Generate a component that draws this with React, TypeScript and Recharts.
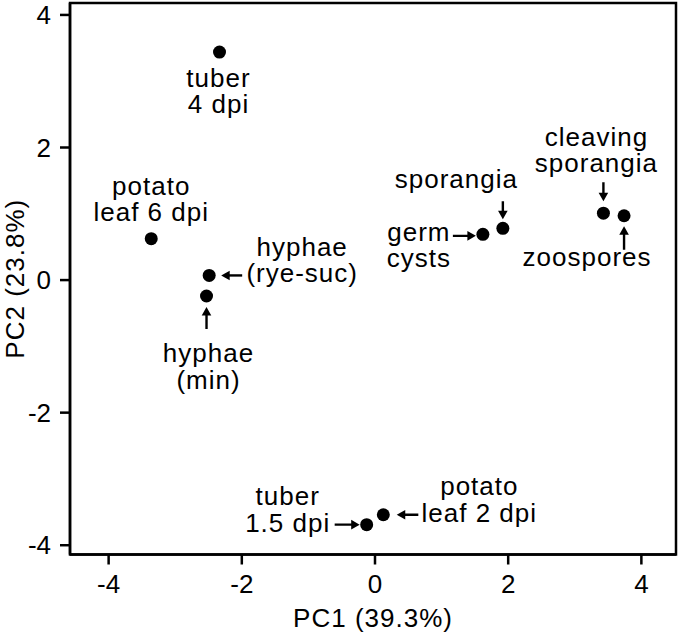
import React from 'react';
import { ScatterChart, Scatter, XAxis, YAxis, ReferenceArea, Label } from 'recharts';

// ---- data ----
const sampleNames = [
  'tuber 4 dpi',
  'potato leaf 6 dpi',
  'hyphae (rye-suc)',
  'hyphae (min)',
  'germ cysts',
  'sporangia',
  'cleaving sporangia',
  'zoospores',
  'tuber 1.5 dpi',
  'potato leaf 2 dpi',
];
const pc1Values = [-2.335, -3.36, -2.49, -2.53, 1.62, 1.92, 3.43, 3.74, -0.125, 0.125];
const pc2Values = [3.44, 0.625, 0.07, -0.24, 0.69, 0.78, 1.01, 0.97, -3.69, -3.54];
const labelLines: string[][] = [
  ['tuber', '4 dpi'],
  ['potato', 'leaf 6 dpi'],
  ['hyphae', '(rye-suc)'],
  ['hyphae', '(min)'],
  ['germ', 'cysts'],
  ['sporangia'],
  ['cleaving', 'sporangia'],
  ['zoospores'],
  ['tuber', '1.5 dpi'],
  ['potato', 'leaf 2 dpi'],
];
const xTicks = [-4, -2, 0, 2, 4];
const yTicks = [-4, -2, 0, 2, 4];
const xDomain: [number, number] = [-4.58, 4.52];
const yDomain: [number, number] = [-4.14, 4.18];
const xTitle = 'PC1 (39.3%)';
const yTitle = 'PC2 (23.8%)';

const data = sampleNames.map((name, i) => ({
  name,
  x: pc1Values[i],
  y: pc2Values[i],
  lines: labelLines[i],
}));

// ---- annotation layout (pixel offsets relative to the dot) ----
type Layout = { tx: number; ty: number[]; arrow?: [number, number, number, number] };
const LAYOUT: Record<string, Layout> = {
  'tuber 4 dpi': { tx: -1, ty: [34.5, 61] },
  'potato leaf 6 dpi': { tx: 0, ty: [-44, -17.5] },
  'hyphae (rye-suc)': { tx: 93, ty: [-19.3, 7], arrow: [33, 0, 12, 0] },
  'hyphae (min)': { tx: 2, ty: [66, 93], arrow: [0, 33, 0, 11] },
  'germ cysts': { tx: -64, ty: [6.5, 33], arrow: [-30, 1.5, -7, 1.5] },
  sporangia: { tx: -46.5, ty: [-40.7], arrow: [0, -27, 0, -9] },
  'cleaving sporangia': { tx: -7, ty: [-67, -41], arrow: [0, -31, 0, -12] },
  zoospores: { tx: -37, ty: [50], arrow: [0, 34, 0, 10.5] },
  'tuber 1.5 dpi': { tx: -79, ty: [-20, 7.7], arrow: [-32, 0, -7, 0] },
  'potato leaf 2 dpi': { tx: 96, ty: [-20, 7.7], arrow: [35, 0, 13.4, 0] },
};

const FONT = '"Liberation Sans", Arial, Helvetica, sans-serif';
const FONT_SIZE = 26;
const LETTER_SPACING = 1;

const Arrow = ({ x1, y1, x2, y2 }: { x1: number; y1: number; x2: number; y2: number }) => {
  const dx = x2 - x1;
  const dy = y2 - y1;
  const len = Math.sqrt(dx * dx + dy * dy) || 1;
  const ux = dx / len;
  const uy = dy / len;
  const headLen = 8.5;
  const headHalf = 4.8;
  const bx = x2 - ux * headLen;
  const by = y2 - uy * headLen;
  const px = -uy;
  const py = ux;
  return (
    <g>
      <line x1={x1} y1={y1} x2={bx + ux} y2={by + uy} stroke="#000" strokeWidth={2.4} />
      <polygon
        points={`${x2},${y2} ${bx + px * headHalf},${by + py * headHalf} ${bx - px * headHalf},${by - py * headHalf}`}
        fill="#000"
      />
    </g>
  );
};

const renderPoint = (props: any) => {
  const { cx, cy, payload } = props;
  if (cx == null || cy == null) return <g />;
  const layout = LAYOUT[payload.name];
  return (
    <g>
      <circle cx={cx} cy={cy} r={6.5} fill="#000" />
      {layout && layout.arrow && (
        <Arrow
          x1={cx + layout.arrow[0]}
          y1={cy + layout.arrow[1]}
          x2={cx + layout.arrow[2]}
          y2={cy + layout.arrow[3]}
        />
      )}
      {layout &&
        payload.lines.map((line: string, i: number) => (
          <text
            key={i}
            x={cx + layout.tx}
            y={cy + layout.ty[i]}
            textAnchor="middle"
            fontFamily={FONT}
            fontSize={FONT_SIZE}
            letterSpacing={LETTER_SPACING}
            fill="#000"
          >
            {line}
          </text>
        ))}
    </g>
  );
};

const tickStyle = { fontSize: FONT_SIZE, fill: '#000', fontFamily: FONT };

export default function App() {
  return (
    <div style={{ position: 'absolute', left: 0, top: 0, background: '#fff' }}>
      <ScatterChart width={680} height={636} margin={{ top: 3, right: 4, bottom: 0, left: 0 }}>
        <XAxis
          dataKey="x"
          type="number"
          domain={xDomain}
          ticks={xTicks}
          allowDataOverflow
          height={81.5}
          tickSize={10}
          tickMargin={10}
          axisLine={{ stroke: '#000', strokeWidth: 2.5 }}
          tickLine={{ stroke: '#000', strokeWidth: 2.5 }}
          tick={tickStyle}
        >
          <Label
            value={xTitle}
            position="insideBottom"
            offset={9.3}
            style={{ fontSize: FONT_SIZE, fill: '#000', fontFamily: FONT, letterSpacing: LETTER_SPACING }}
          />
        </XAxis>
        <YAxis
          dataKey="y"
          type="number"
          domain={yDomain}
          ticks={yTicks}
          allowDataOverflow
          width={70}
          tickSize={10}
          tickMargin={9}
          axisLine={{ stroke: '#000', strokeWidth: 2.5 }}
          tickLine={{ stroke: '#000', strokeWidth: 2.5 }}
          tick={tickStyle}
        >
          <Label
            value={yTitle}
            angle={-90}
            position="insideLeft"
            offset={15}
            style={{
              fontSize: FONT_SIZE,
              fill: '#000',
              fontFamily: FONT,
              textAnchor: 'middle',
              letterSpacing: LETTER_SPACING,
            }}
          />
        </YAxis>
        <ReferenceArea
          x1={xDomain[0]}
          x2={xDomain[1]}
          y1={yDomain[0]}
          y2={yDomain[1]}
          fill="none"
          fillOpacity={0}
          stroke="#000"
          strokeWidth={2.5}
          ifOverflow="visible"
        />
        <Scatter data={data} shape={renderPoint} isAnimationActive={false} />
      </ScatterChart>
    </div>
  );
}
